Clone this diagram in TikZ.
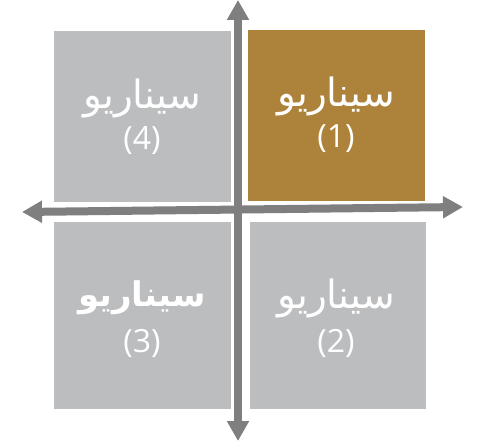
\documentclass[tikz,border=0pt]{standalone}
\usepackage{fontspec}
\usetikzlibrary{arrows.meta}
\TeXXeTstate=1
\newfontfamily\arabicfont[Script=Arabic]{DejaVu Sans}
\newfontfamily\numfont{Open Sans}
\definecolor{boxgray}{HTML}{BCBDBF}
\definecolor{boxgold}{HTML}{AD833B}
\definecolor{axisgray}{HTML}{7F7F7F}
\begin{document}
\begin{tikzpicture}[x=1pt,y=-1pt,
  quad/.style={rectangle,draw=none,inner sep=0pt},
  ar/.style={text=white,font=\arabicfont\fontsize{39}{44}\selectfont,inner sep=0pt},
  arb/.style={text=white,font=\arabicfont\bfseries\fontsize{34}{40}\selectfont,inner sep=0pt},
  num/.style={text=white,font=\numfont\fontsize{32}{36}\selectfont,inner sep=0pt},
  axis/.style={draw=axisgray,line width=8pt,{Triangle[width=21pt,length=20pt]}-{Triangle[width=21pt,length=20pt]}}]
\useasboundingbox (0,0) rectangle (479,446);
\fill[white] (0,0) rectangle (479,446);
\node[quad,fill=boxgray,minimum width=177pt,minimum height=171pt] (b4) at (142.5,116.5) {};
\node[quad,fill=boxgold,minimum width=177pt,minimum height=171pt] (b1) at (336.5,115.5) {};
\node[quad,fill=boxgray,minimum width=177pt,minimum height=187pt] (b3) at (142.5,315.5) {};
\node[quad,fill=boxgray,minimum width=176pt,minimum height=187pt] (b2) at (338,315.5) {};
\coordinate (vt) at (238,0);
\coordinate (vb) at (238,441);
\coordinate (hl) at (22,212);
\coordinate (hr) at (463,207);
\draw[axis] (vb) -- (vt);
\draw[axis] (hl) -- (hr);
\node[ar] (t4) at (142,98) {\beginR سيناريو\endR};
\node[num] (n4) at (142,141) {(4)};
\node[ar] (t1) at (336,96) {\beginR سيناريو\endR};
\node[num] (n1) at (336,139) {(1)};
\node[arb] (t3) at (142,298) {\beginR سيناريو\endR};
\node[num] (n3) at (142,343) {(3)};
\node[ar] (t2) at (336,298) {\beginR سيناريو\endR};
\node[num] (n2) at (336,343) {(2)};
\end{tikzpicture}
\end{document}
